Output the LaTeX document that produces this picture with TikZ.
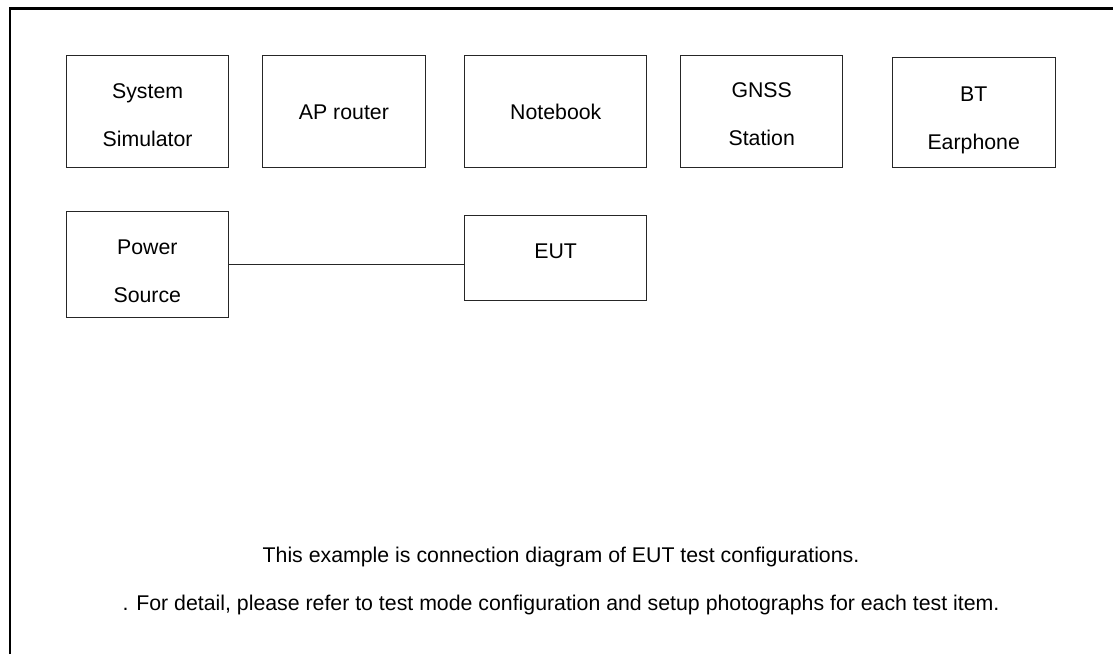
\documentclass[tikz,border=0pt]{standalone}
\usepackage{fontspec}
\setmainfont{Liberation Sans}
\begin{document}
\begin{tikzpicture}[x=1pt,y=-1pt,
  box/.style={draw=black!85, line width=1pt, inner sep=0pt},
  txt/.style={inner sep=0pt, align=center, text depth=0pt,
    font=\fontsize{21.3pt}{48pt}\selectfont},
  conn/.style={draw=black!85, line width=1.1pt},
  frame/.style={line width=2.6pt}]
\useasboundingbox (0,0) rectangle (1113,654);
% outer frame (only left and top edges visible)
\coordinate (fbl) at (10,654);
\coordinate (ftl) at (10,8.7);
\coordinate (ftr) at (1113,8.7);
\draw[frame] (fbl) -- (ftl) -- (ftr);
% boxes
\node[box, minimum width=162.2pt, minimum height=111.5pt] (sim) at (147.6,111.7) {};
\node[box, minimum width=162.3pt, minimum height=112.4pt] (ap) at (343.9,111.5) {};
\node[box, minimum width=181.7pt, minimum height=112.4pt] (nb) at (555.8,111.5) {};
\node[box, minimum width=162pt, minimum height=112.4pt] (gnss) at (761.7,111.5) {};
\node[box, minimum width=162.7pt, minimum height=110pt] (bt) at (973.7,112.3) {};
\node[box, minimum width=162pt, minimum height=106pt] (power) at (147.3,264.7) {};
\node[box, minimum width=182pt, minimum height=85.3pt] (eut) at (555.7,258.3) {};
% texts
\node[txt] (simT) at (147.6,115.2) {System\\Simulator};
\node[txt] (apT) at (343.9,112) {AP router};
\node[txt] (nbT) at (555.8,112) {Notebook};
\node[txt] (gnssT) at (761.7,114.2) {GNSS\\Station};
\node[txt] (btT) at (973.7,118.2) {BT\\Earphone};
\node[txt] (powerT) at (147.3,271) {Power\\Source};
\node[txt] (eutT) at (555.7,250.8) {EUT};
\node[txt] (note) at (561,578.5) {This example is connection diagram of EUT test configurations.\\. For detail, please refer to test mode configuration and setup photographs for each test item.};
% connector
\draw[conn] (power.east) -- (power.east -| eut.west);
\end{tikzpicture}
\end{document}
